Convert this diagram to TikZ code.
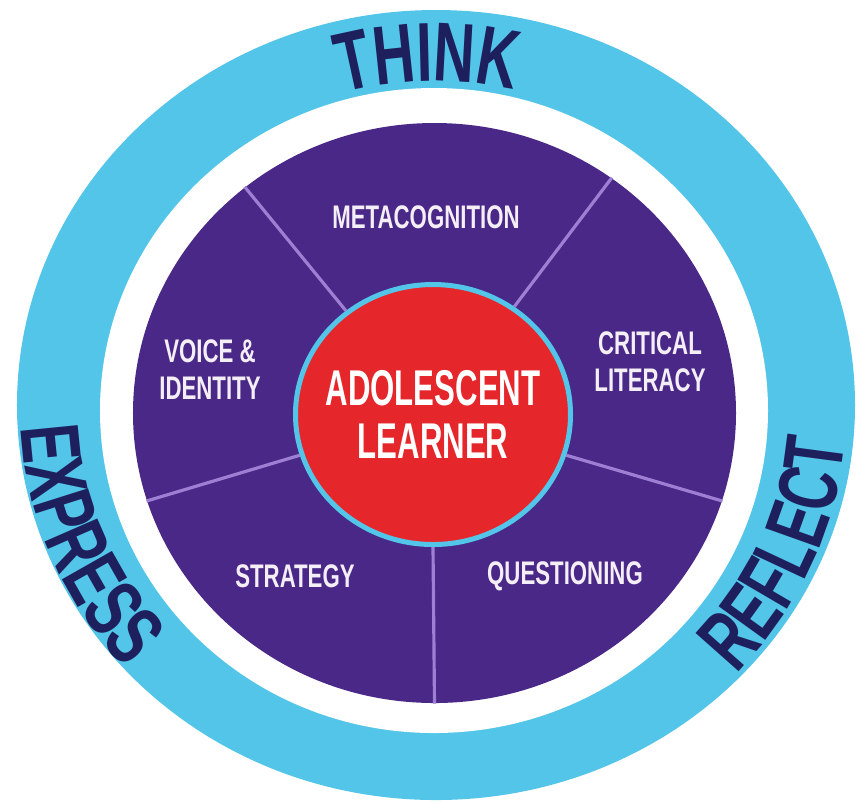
\documentclass[tikz,border=0pt]{standalone}
\usepackage{fontspec}
\usetikzlibrary{shapes.geometric,decorations.text}
\newfontfamily\condfont[FakeStretch=0.68]{Liberation Sans}
\newfontfamily\hubfont[FakeStretch=0.62]{Liberation Sans}
\newcommand{\ringfont}{\condfont\bfseries\fontsize{23.8}{26}\selectfont}
\definecolor{ringblue}{HTML}{52C5E8}
\definecolor{navy}{HTML}{1E205E}
\definecolor{grape}{HTML}{4A2887}
\definecolor{hubred}{HTML}{E5262B}
\definecolor{lilac}{HTML}{9D80D4}
\definecolor{chalk}{HTML}{F4EEF6}
\tikzset{
  disk/.style={ellipse,fill=grape,inner sep=0pt,minimum width=6.03cm,minimum height=5.80cm},
  hub/.style={ellipse,draw=ringblue,line width=0.05cm,fill=hubred,inner sep=0pt,minimum width=2.75cm,minimum height=2.60cm},
  hubtext/.style={text=white,align=center,font=\hubfont\bfseries\fontsize{14.3}{15}\selectfont},
  seglabel/.style={text=chalk,align=center,font=\condfont\bfseries\fontsize{9.3}{10.5}\selectfont},
  spoke/.style={draw=lilac,line width=0.9pt},
  ringword/.style={decorate,decoration={text along path,text align=center,text color=navy,text={|\ringfont|#1}}}
}

\begin{document}
\begin{tikzpicture}
    \useasboundingbox (-4.34,-3.94) rectangle (4.24,4.10);
    % outer band
    \fill[ringblue] (0.02,0.05) ellipse [x radius=4.19,y radius=3.95];
    \fill[white] (0,-0.005) ellipse [x radius=3.34,y radius=3.225];
    \path[ringword=THINK] (121:3.40 and 3.29) arc [start angle=121,end angle=61,x radius=3.40,y radius=3.29];
    \path[ringword=EXPRESS] (172:4.13 and 3.88) arc [start angle=172,end angle=232,x radius=4.13,y radius=3.88];
    \path[ringword=REFLECT] (-53.5:4.12 and 3.88) arc [start angle=-53.5,end angle=6.5,x radius=4.12,y radius=3.88];
    % segments
    \node[disk] (disk) at (0.005,-0.03) {};
    \node[hub] (hub) at (-0.01,-0.045) {};
    \foreach \a in {53,130,197,270,343}
      \draw[spoke] (hub.\a) -- (disk.\a);
    \node[hubtext] (learner) at (hub) {ADOLESCENT\\LEARNER};
    \node[seglabel] (meta) at (-0.08,1.93) {METACOGNITION};
    \node[seglabel] (voice) at (-2.24,0.40) {VOICE \&\\IDENTITY};
    \node[seglabel] (critical) at (2.16,0.48) {CRITICAL\\LITERACY};
    \node[seglabel] (strategy) at (-1.39,-1.66) {STRATEGY};
    \node[seglabel] (questioning) at (1.31,-1.66) {QUESTIONING};
  \end{tikzpicture}
\end{document}
